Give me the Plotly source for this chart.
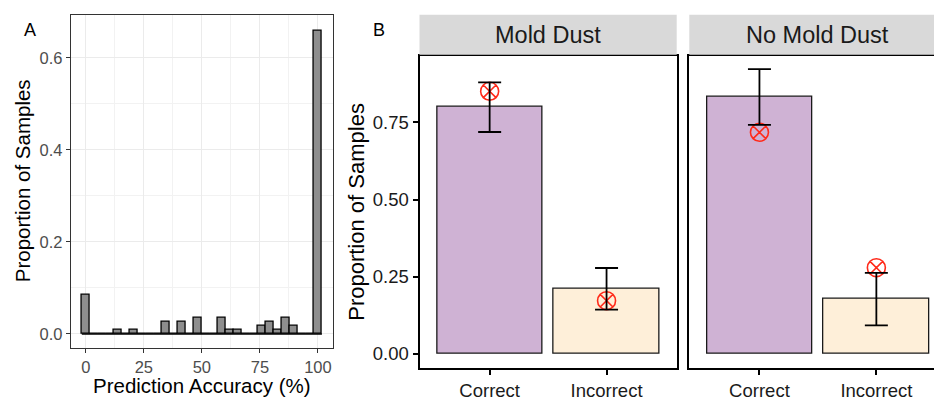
import plotly.graph_objects as go

# ---------------- Panel A data (histogram, 30 bins) ----------------
bin_centers = [0, 3.45, 6.9, 10.34, 13.79, 17.24, 20.69, 24.14, 27.59, 31.03,
               34.48, 37.93, 41.38, 44.83, 48.28, 51.72, 55.17, 58.62, 62.07, 65.52,
               68.97, 72.41, 75.86, 79.31, 82.76, 86.21, 89.66, 93.1, 96.55, 100]
bin_props = [0.0855, 0, 0, 0, 0.0085, 0, 0.0085, 0, 0, 0,
             0.0256, 0, 0.0256, 0, 0.0342, 0, 0, 0.0342, 0.0085, 0.0085,
             0, 0, 0.0171, 0.0256, 0.0085, 0.0342, 0.0171, 0, 0, 0.6581]
bin_width = 3.448
hist_xticks = [0, 25, 50, 75, 100]
hist_yticks = [0.0, 0.2, 0.4, 0.6]

# ---------------- Panel B data ----------------
outcomes = ["Correct", "Incorrect"]
facets = ["Mold Dust", "No Mold Dust"]
bar_props = {"Mold Dust": [0.80, 0.21], "No Mold Dust": [0.833, 0.177]}
err_low = {"Mold Dust": [0.719, 0.143], "No Mold Dust": [0.742, 0.092]}
err_high = {"Mold Dust": [0.880, 0.278], "No Mold Dust": [0.923, 0.262]}
expected = {"Mold Dust": [0.851, 0.172], "No Mold Dust": [0.718, 0.279]}
b_yticks = [0.0, 0.25, 0.50, 0.75]

bar_colors = ["#CFB2D4", "#FEEFD9"]
FONT = "Liberation Sans, Arial, sans-serif"
W, H = 934, 401


def px(x):
    return x / W


def py(y):
    return 1 - y / H


fig = go.Figure()

# baseline for empty bins
fig.add_trace(go.Scatter(
    x=[bin_centers[0] - bin_width / 2, bin_centers[-1] + bin_width / 2], y=[0, 0],
    mode="lines", line=dict(color="black", width=1.3), xaxis="x", yaxis="y",
    showlegend=False, hoverinfo="skip"))
fig.add_trace(go.Bar(
    x=bin_centers, y=bin_props, width=bin_width,
    marker=dict(color="#8E8E8E", line=dict(color="black", width=1.3)),
    xaxis="x", yaxis="y", showlegend=False))

axes_b = [("x2", "y2"), ("x3", "y3")]
for f, (xa, ya) in zip(facets, axes_b):
    vals = bar_props[f]
    fig.add_trace(go.Bar(
        x=outcomes, y=vals, width=0.9,
        marker=dict(color=bar_colors, line=dict(color="#1A1A1A", width=1.3)),
        xaxis=xa, yaxis=ya, showlegend=False))
    fig.add_trace(go.Scatter(
        x=outcomes, y=expected[f], mode="markers",
        marker=dict(symbol="circle-x-open", size=18, color="#FF2A1A",
                    line=dict(width=1.6, color="#FF2A1A")),
        xaxis=xa, yaxis=ya, showlegend=False))
    fig.add_trace(go.Scatter(
        x=outcomes, y=vals, mode="markers",
        marker=dict(size=1, opacity=0),
        error_y=dict(type="data", symmetric=False,
                     array=[h - v for h, v in zip(err_high[f], vals)],
                     arrayminus=[v - l for l, v in zip(err_low[f], vals)],
                     color="black", thickness=1.8, width=11.5),
        xaxis=xa, yaxis=ya, showlegend=False, hoverinfo="skip"))

tickfont_a = dict(family=FONT, size=16.5, color="#4D4D4D")
tickfont_b = dict(family=FONT, size=18.5, color="#1A1A1A")

fig.update_layout(
    width=W, height=H, margin=dict(l=0, r=0, t=0, b=0),
    paper_bgcolor="white", plot_bgcolor="white",
    font=dict(family=FONT, color="black"),
    bargap=0,
    xaxis=dict(domain=[px(70.7), px(333)], range=[-6.5, 106.5],
               tickvals=hist_xticks, ticks="outside", ticklen=4, tickcolor="#333333",
               tickwidth=1, tickfont=tickfont_a, showgrid=True, gridcolor="#EBEBEB",
               gridwidth=1, minor=dict(showgrid=True, gridcolor="#F2F2F2", tickvals=[12.5, 37.5, 62.5, 87.5]),
               showline=True, linecolor="#333333", linewidth=1, mirror=True,
               zeroline=False, anchor="y"),
    yaxis=dict(domain=[py(353.3), py(15)], range=[-0.0305, 0.6935],
               tickvals=hist_yticks, tickformat=".1f", ticks="outside", ticklen=4,
               tickcolor="#333333", tickwidth=1, tickfont=tickfont_a,
               showgrid=True, gridcolor="#EBEBEB", gridwidth=1,
               minor=dict(showgrid=True, gridcolor="#F2F2F2", tickvals=[0.1, 0.3, 0.5]),
               showline=True, linecolor="#333333", linewidth=1, mirror=True,
               zeroline=False, anchor="x"),
    xaxis2=dict(domain=[px(419.5), px(676.7)], range=[-0.6, 1.6], type="category",
                categoryorder="array", categoryarray=outcomes,
                ticks="outside", ticklen=5, tickcolor="black", tickwidth=1.5,
                tickfont=tickfont_b, showgrid=False, showline=True, linecolor="black",
                linewidth=2, mirror=True, anchor="y2"),
    yaxis2=dict(domain=[py(373.5), py(56.7)], range=[-0.046, 0.966],
                tickvals=b_yticks, tickformat=".2f", ticks="outside", ticklen=5,
                tickcolor="black", tickwidth=1.5, tickfont=tickfont_b,
                showgrid=False, zeroline=False, showline=True, linecolor="black",
                linewidth=2, mirror=True, anchor="x2"),
    xaxis3=dict(domain=[px(689.3), 1.0], range=[-0.6, 1.493], type="category",
                categoryorder="array", categoryarray=outcomes,
                ticks="outside", ticklen=5, tickcolor="black", tickwidth=1.5,
                tickfont=tickfont_b, showgrid=False, showline=True, linecolor="black",
                linewidth=2, mirror=True, anchor="y3"),
    yaxis3=dict(domain=[py(373.5), py(56.7)], range=[-0.046, 0.966],
                matches="y2", showticklabels=False, ticks="",
                showgrid=False, zeroline=False, showline=True, linecolor="black",
                linewidth=2, anchor="x3"),
)

# strips
for (x0, x1) in [(px(419.5), px(676.7)), (px(689.3), 1.02)]:
    fig.add_shape(type="rect", xref="paper", yref="paper", x0=x0, x1=x1,
                  y0=py(55.5), y1=py(15), fillcolor="#D9D9D9", line=dict(width=0))

annots = [
    dict(text="Mold Dust", x=px(548.1), y=py(36), size=23.5, angle=0, color="#1A1A1A"),
    dict(text="No Mold Dust", x=px(817.9), y=py(36), size=23.5, angle=0, color="#1A1A1A"),
    dict(text="A", x=px(30), y=py(30.5), size=18, angle=0, color="black"),
    dict(text="B", x=px(379), y=py(30), size=18, angle=0, color="black"),
    dict(text="Proportion of Samples", x=px(22), y=py(184), size=20.5, angle=-90, color="black"),
    dict(text="Proportion of Samples", x=px(357), y=py(215), size=22, angle=-90, color="black"),
    dict(text="Prediction Accuracy (%)", x=px(202), y=py(391), size=20.5, angle=0, color="black"),
]
for a in annots:
    fig.add_annotation(text=a["text"], x=a["x"], y=a["y"], xref="paper", yref="paper",
                       xanchor="center", yanchor="middle", showarrow=False,
                       textangle=a["angle"], font=dict(family=FONT, size=a["size"], color=a["color"]))

post = ("document.documentElement.style.margin='0';"
        "document.documentElement.style.overflow='hidden';"
        "document.body.style.margin='0';document.body.style.padding='0';"
        "document.body.style.overflow='hidden';"
        "document.body.style.height='401px';")
fig.write_html("out.html", config={"displayModeBar": False}, post_script=post)
